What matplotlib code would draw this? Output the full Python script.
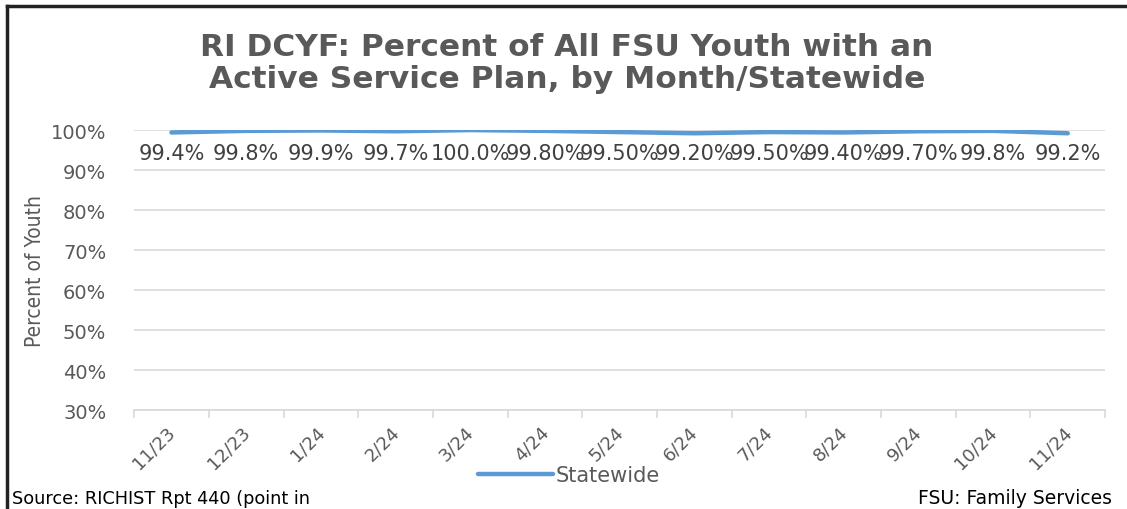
import matplotlib.pyplot as plt
from matplotlib.lines import Line2D
from matplotlib.transforms import ScaledTranslation
import numpy as np

# data
months = ["11/23", "12/23", "1/24", "2/24", "3/24", "4/24", "5/24",
          "6/24", "7/24", "8/24", "9/24", "10/24", "11/24"]
statewide = [0.994, 0.998, 0.999, 0.997, 1.000, 0.998, 0.995,
             0.992, 0.995, 0.994, 0.997, 0.998, 0.992]
etiketler = ["99.4%", "99.8%", "99.9%", "99.7%", "100.0%", "99.80%", "99.50%",
             "99.20%", "99.50%", "99.40%", "99.70%", "99.8%", "99.2%"]

gri = "#595959"

fig = plt.figure(figsize=(11.27, 5.10), dpi=100)
ax = fig.add_axes([0.119, 0.194, 0.8616, 0.549])

x = np.arange(len(months))
ax.plot(x, statewide, color="#5B9BD5", linewidth=3.2, solid_capstyle="round",
        label="Statewide", zorder=3)

# etiketler cizginin altinda
for xi, yi, t in zip(x, statewide, etiketler):
    ax.annotate(t, (xi, 0.994), xytext=(0, -15), textcoords="offset points",
                ha="center", va="center", fontsize=15, color="#404040")

ax.set_xlim(-0.5, len(months) - 0.5)
ax.set_ylim(0.3, 1.0)
yt = np.arange(0.3, 1.01, 0.1)
ax.set_yticks(yt)
ax.set_yticklabels([f"{int(round(v * 100))}%" for v in yt], fontsize=14, color=gri)

# x etiketleri: 45 derece, kategori ortasina yakin
ax.set_xticks(np.arange(-0.5, len(months)))
ax.set_xticklabels([])
ax.tick_params(axis="x", length=6, color="#D9D9D9", width=1.2)
kaydir = ax.get_xaxis_transform() + ScaledTranslation(-4 / 72, -9 / 72, fig.dpi_scale_trans)
for xi, m in zip(x, months):
    ax.text(xi, 0, m, transform=kaydir, rotation=45, rotation_mode="anchor",
            ha="right", va="top", fontsize=13, color=gri)
ax.tick_params(axis="y", length=0, pad=20)

ax.grid(axis="y", color="#D9D9D9", linewidth=1.2)
ax.set_axisbelow(True)
for s in ["top", "right", "left"]:
    ax.spines[s].set_visible(False)
ax.spines["bottom"].set_color("#D9D9D9")
ax.spines["bottom"].set_linewidth(1.2)

ax.set_ylabel("Percent of Youth", fontsize=15, color=gri, fontstretch="condensed",
              labelpad=4)

fig.text(0.503, 0.875, "RI DCYF: Percent of All FSU Youth with an\nActive Service Plan, by Month/Statewide",
         ha="center", va="center", fontsize=22.5, fontweight="bold", color=gri,
         linespacing=1.15)

leg = fig.legend(loc="center", bbox_to_anchor=(0.505, 0.066), frameon=False,
                 fontsize=15, handlelength=3.6, handletextpad=0.15)
for t in leg.get_texts():
    t.set_color(gri)

fig.text(0.011, 0.012, "Source: RICHIST Rpt 440 (point in", fontsize=12.8, color="black")
fig.text(0.987, 0.012, "FSU: Family Services", fontsize=13.5, color="black", ha="right")

# cerceve
fig.add_artist(Line2D([0.0065, 0.0065], [0, 0.986], color="#222222", linewidth=2.5,
                      transform=fig.transFigure))
fig.add_artist(Line2D([0.0065, 1.0], [0.986, 0.986], color="#222222", linewidth=2.5,
                      transform=fig.transFigure))

fig.savefig("out.png", dpi=100)
